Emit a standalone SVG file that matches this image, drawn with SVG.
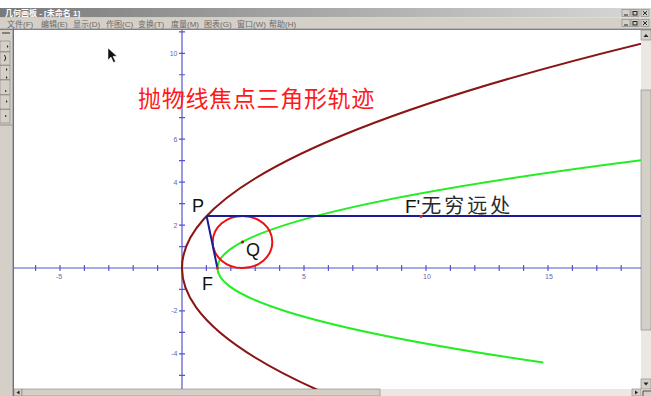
<svg xmlns="http://www.w3.org/2000/svg" width="651" height="396" viewBox="0 0 651 396">
<defs>
<linearGradient id="tb" x1="0" x2="1" y1="0" y2="0"><stop offset="0" stop-color="#7a7a7a"/><stop offset="1" stop-color="#d8d8d8"/></linearGradient>
<clipPath id="canvas"><rect x="14" y="30" width="627" height="359"/></clipPath>
</defs>
<style>
.menu{font-family:"Liberation Sans","Noto Sans CJK SC",sans-serif;font-size:8px;fill:#6a6a6a}
.ttl{font-family:"Liberation Sans","Noto Sans CJK SC",sans-serif;font-size:8px;font-weight:bold;fill:#ffffff}
.axis{stroke:#5555cc;stroke-width:1.2;fill:none}
.tk{font-family:"Liberation Sans",sans-serif;font-size:7px;fill:#6666aa}
.lbl{font-family:"Liberation Sans","Noto Sans CJK SC",sans-serif;font-size:18px;fill:#111111}
.seg{stroke:#1c1c96;stroke-width:2;fill:none}
.chrome{fill:#d4d0c8}
.track{fill:#ebe8e4}
.btn{fill:#d4d0c8;stroke:#808080;stroke-width:0.6}
.ico{stroke:#222;stroke-width:1;fill:none}
.arr{fill:#222}
</style>
<rect x="0" y="0" width="651" height="396" fill="#ffffff"/>

<g id="window-chrome">
  <rect x="0" y="8" width="651" height="9.5" fill="url(#tb)"/>
  <text class="ttl" x="5" y="15.5">几何画板 - [未命名 1]</text>
  <g id="caption-buttons">
    <rect class="btn" x="622" y="9.5" width="8" height="7"/>
    <line class="ico" x1="624" y1="15" x2="628" y2="15"/>
    <rect class="btn" x="631" y="9.5" width="8" height="7"/>
    <rect class="ico" x="633" y="11.5" width="4" height="3.5"/>
    <rect class="btn" x="641" y="9.5" width="8" height="7"/>
    <path class="ico" d="M643,11.2 L647,15 M647,11.2 L643,15"/>
  </g>
  <rect class="chrome" x="0" y="17.5" width="651" height="11"/>
  <text class="menu" x="7" y="26.5">文件(F)</text>
  <text class="menu" x="41" y="26.5">编辑(E)</text>
  <text class="menu" x="73" y="26.5">显示(D)</text>
  <text class="menu" x="106" y="26.5">作图(C)</text>
  <text class="menu" x="138" y="26.5">变换(T)</text>
  <text class="menu" x="171" y="26.5">度量(M)</text>
  <text class="menu" x="204" y="26.5">图表(G)</text>
  <text class="menu" x="237" y="26.5">窗口(W)</text>
  <text class="menu" x="269" y="26.5">帮助(H)</text>
  <g id="child-buttons">
    <rect class="btn" x="622" y="19.5" width="8" height="7"/>
    <line class="ico" x1="624" y1="25" x2="628" y2="25"/>
    <rect class="btn" x="631" y="19.5" width="8" height="7"/>
    <rect class="ico" x="633" y="21.5" width="4" height="3.5"/>
    <rect class="btn" x="641" y="19.5" width="8" height="7"/>
    <path class="ico" d="M643,21.2 L647,25 M647,21.2 L643,25"/>
  </g>
  <rect x="0" y="28.5" width="651" height="1.5" fill="#808080"/>
  <rect class="chrome" x="0" y="30" width="12.5" height="366"/>
  <rect x="12.5" y="28.5" width="1.5" height="368" fill="#707070"/>
  <g id="toolbar">
    <line x1="2" y1="33" x2="10" y2="33" stroke="#333" stroke-width="1"/>
    <rect class="btn" x="0" y="41" width="10" height="10.5"/>
    <rect class="btn" x="0" y="52" width="10" height="13"/>
    <rect class="btn" x="0" y="65.5" width="10" height="14"/>
    <rect class="btn" x="0" y="80" width="10" height="14.5"/>
    <rect class="btn" x="0" y="95" width="10" height="14"/>
    <rect class="btn" x="0" y="109.5" width="10" height="13.5"/>
    <path class="arr" d="M7,45 L8.5,46.5 L7,48 Z M6,68 L7.5,69.5 L6,71 Z M6,76 L7.5,77.5 L6,79 Z M5,90 L7,91 L5,92 Z M6,100 L7.5,101.5 L6,103 Z M5,115 L7,116 L5,117 Z"/>
    <path class="ico" d="M4.5,55 Q7,58 4.5,61"/>
    <rect x="0" y="124.5" width="12" height="1" fill="#909090"/>
  </g>
  <g id="scrollbar-right">
    <rect class="track" x="641" y="30" width="10" height="359"/>
    <rect class="btn" x="641" y="30" width="10" height="10"/>
    <path class="arr" d="M643.5,37 L646,34 L648.5,37 Z"/>
    <rect class="btn" x="641" y="90" width="10" height="240"/>
    <rect class="btn" x="641" y="379" width="10" height="10"/>
    <path class="arr" d="M643.5,382.5 L646,385.5 L648.5,382.5 Z"/>
  </g>
  <g id="scrollbar-bottom">
    <rect class="track" x="14" y="389" width="627" height="7"/>
    <rect class="btn" x="14" y="389" width="8" height="7"/>
    <path class="arr" d="M19.5,390.5 L16.5,392.5 L19.5,394.5 Z"/>
    <rect class="btn" x="22" y="389" width="358" height="7"/>
    <rect class="btn" x="632" y="389" width="9" height="7"/>
    <path class="arr" d="M635,390.5 L638,392.5 L635,394.5 Z"/>
    <rect class="chrome" x="641" y="389" width="10" height="7"/>
    <path d="M643,396 L643,391 L651,391" stroke="#333" stroke-width="0.8" fill="none"/>
  </g>
</g>

<g id="axes" clip-path="url(#canvas)">
  <line class="axis" x1="14" y1="268" x2="641" y2="268"/>
  <line class="axis" x1="182" y1="30" x2="182" y2="389"/>
  <path class="axis" d="M35.6,265V271M60,265V271M84.4,265V271M108.8,265V271M133.2,265V271M157.6,265V271M206.4,265V271M230.8,265V271M255.2,265V271M279.6,265V271M304,265V271M328.4,265V271M352.8,265V271M377.2,265V271M401.6,265V271M426,265V271M450.4,265V271M474.8,265V271M499.2,265V271M523.6,265V271M548,265V271M572.4,265V271M596.8,265V271M621.2,265V271"/>
  <path class="axis" d="M179,375.35H185M179,353.88H185M179,332.41H185M179,310.94H185M179,289.47H185M179,246.53H185M179,225.06H185M179,203.59H185M179,182.12H185M179,160.65H185M179,139.18H185M179,117.71H185M179,96.24H185M179,74.77H185M179,53.3H185M179,31.83H185"/>
  <g text-anchor="middle">
    <text class="tk" x="59" y="279">-5</text>
    <text class="tk" x="304" y="279">5</text>
    <text class="tk" x="427" y="279">10</text>
    <text class="tk" x="549" y="279">15</text>
  </g>
  <g text-anchor="end">
    <text class="tk" x="177.5" y="55.8">10</text>
    <text class="tk" x="177.5" y="141.7">6</text>
    <text class="tk" x="177.5" y="184.6">4</text>
    <text class="tk" x="177.5" y="227.6">2</text>
    <text class="tk" x="177.5" y="313.4">-2</text>
    <text class="tk" x="177.5" y="356.4">-4</text>
  </g>
</g>

<g id="title">
  <text x="138" y="107" font-family="'Noto Sans CJK SC',sans-serif" font-size="23" letter-spacing="0.7" fill="#ff1a1a">抛物线焦点三角形轨迹</text>
</g>

<g id="parabola" clip-path="url(#canvas)">
  <path d="M331.5,396 Q-82.6,218.75 650,41.5" stroke="#8a1515" stroke-width="2" fill="none"/>
</g>

<g id="locus" clip-path="url(#canvas)">
  <path d="M543.4,362.5 Q-157.3,260.95 648,159.4" stroke="#22ee22" stroke-width="2" fill="none"/>
</g>

<g id="incircle">
  <ellipse cx="242.5" cy="242" rx="29.8" ry="26" stroke="#ee1111" stroke-width="2" fill="none"/>
</g>

<g id="connectors">
  <path class="seg" d="M206.6,216 L217.4,268"/>
  <path class="seg" d="M206.6,216 L641,216"/>
</g>

<g id="node-P">
  <text class="lbl" x="192" y="212" font-size="19">P</text>
</g>
<g id="node-F">
  <circle cx="217.4" cy="268" r="1.5" fill="#dd2222"/>
  <text class="lbl" x="202" y="290">F</text>
</g>
<g id="node-Q">
  <circle cx="242.5" cy="242" r="1.6" fill="#aa1111"/>
  <text class="lbl" x="246" y="255.5" font-size="19">Q</text>
</g>
<g id="node-Fprime">
  <circle cx="421" cy="216.5" r="1.5" fill="#dd2222"/>
  <text class="lbl" x="405" y="213"><tspan font-size="19">F'</tspan><tspan font-family="'Noto Sans CJK SC',sans-serif" font-size="20" letter-spacing="3" fill="#2a2a2a" dx="1">无穷远处</tspan></text>
</g>

<g id="cursor">
  <path d="M108,48 L108,60 L111,57 L113.5,62.5 L115.5,61.5 L113,56.3 L117,56.3 Z" fill="#111" stroke="#fff" stroke-width="0.5"/>
</g>
</svg>
